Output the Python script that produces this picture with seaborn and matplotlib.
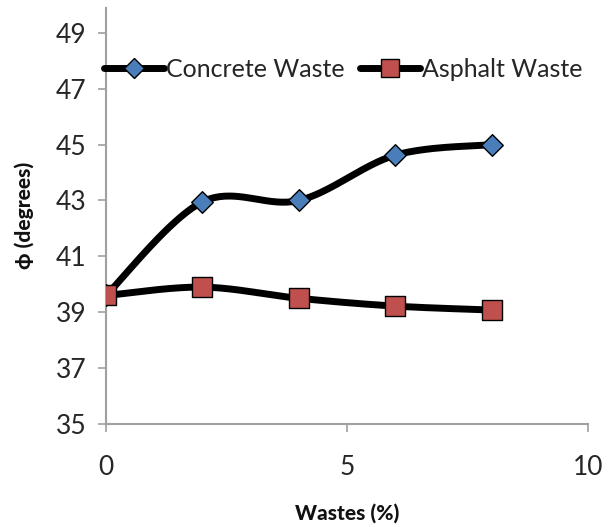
import numpy as np
import pandas as pd
import matplotlib
matplotlib.use("Agg")
import matplotlib.pyplot as plt
import seaborn as sns

wastes = [0, 2, 4, 6, 8]
concrete = [39.6, 42.95, 43.0, 44.62, 45.0]
asphalt = [39.6, 39.9, 39.5, 39.22, 39.08]
x_ticks = [0, 5, 10]
y_ticks = [35, 37, 39, 41, 43, 45, 47, 49]

sns.set_theme(style="white")
plt.rcParams['font.family'] = ['Lato', 'DejaVu Sans']


def smooth(x, y, n=40):
    # Excel-style smoothed line (Catmull-Rom through the data points)
    x = np.asarray(x, float); y = np.asarray(y, float)
    px = np.concatenate([[x[0]], x, [x[-1]]])
    py = np.concatenate([[y[0]], y, [y[-1]]])
    xs, ys = [], []
    for i in range(1, len(px) - 2):
        t = np.linspace(0, 1, n)
        for arr, out in ((px, xs), (py, ys)):
            p0, p1, p2, p3 = arr[i - 1], arr[i], arr[i + 1], arr[i + 2]
            out.extend(0.5 * ((2 * p1) + (-p0 + p2) * t + (2 * p0 - 5 * p1 + 4 * p2 - p3) * t ** 2
                              + (-p0 + 3 * p1 - 3 * p2 + p3) * t ** 3))
    return np.array(xs), np.array(ys)


fig = plt.figure(figsize=(6.14, 5.27), dpi=100)
ax = fig.add_axes([0.1726, 0.1954, 0.785, 0.79])

series = [("Concrete Waste", concrete, "D", "#4a7ebb", 11),
          ("Asphalt Waste", asphalt, "s", "#c0504d", 14)]
for name, vals, mk, col, ms in series:
    sx, sy = smooth(wastes, vals)
    sns.lineplot(x=sx, y=sy, ax=ax, color="black", lw=5, sort=False, zorder=2)
    sns.scatterplot(x=wastes, y=vals, ax=ax, marker=mk, color=col, s=ms ** 2,
                    edgecolor="black", linewidth=1.0, zorder=3)

from matplotlib.lines import Line2D
handles = [Line2D([], [], color="black", lw=5, marker=mk, markersize=ms * 0.95,
                  markerfacecolor=col, markeredgecolor="black", markeredgewidth=1.0)
           for _, _, mk, col, ms in series]
ax.legend(handles, [s[0] for s in series], loc="upper left", bbox_to_anchor=(-0.005, 0.88),
          frameon=False, fontsize=18, ncol=2, handlelength=2.4, handletextpad=0.1,
          columnspacing=0.6, borderaxespad=0, borderpad=0)

ax.set_xlim(0, 10)
ax.set_ylim(35, 49.9)
ax.set_xticks(x_ticks)
ax.set_yticks(y_ticks)
ax.tick_params(axis="both", labelsize=19, colors="#262626", length=6, width=1.2,
               direction="out", left=True, bottom=True, color="#a0a0a0")
ax.tick_params(axis="x", pad=16)
ax.tick_params(axis="y", pad=8)
for s in ["top", "right"]:
    ax.spines[s].set_visible(False)
for s in ["left", "bottom"]:
    ax.spines[s].set_color("#a0a0a0")
    ax.spines[s].set_linewidth(1.5)

ax.set_xlabel("Wastes (%)", fontsize=15, fontweight="black", labelpad=17, color="#111111")
ax.set_ylabel("ϕ (degrees)", fontsize=15, fontweight="black", labelpad=16, color="#111111")

fig.savefig("out.png", dpi=100)
